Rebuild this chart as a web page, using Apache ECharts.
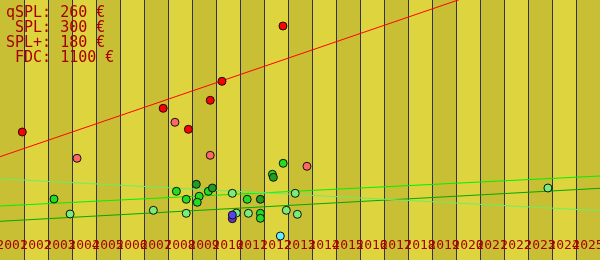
<!DOCTYPE html>
<html>
<head>
<meta charset="utf-8">
<script src="https://cdn.jsdelivr.net/npm/echarts@6/dist/echarts.min.js"></script>
<style>
html,body{margin:0;padding:0;background:#ddd43e;}
#chart{width:600px;height:260px;}
</style>
</head>
<body>
<div id="chart"></div>
<script>
// ---- data ----
const years = ['2001','2002','2003','2004','2005','2006','2007','2008','2009','2010','2011','2012','2013','2014','2015','2016','2017','2018','2019','2020','2021','2022','2023','2024','2025'];
const priceNames = ['qSPL', 'SPL', 'SPL+', 'FDC'];
const priceValues = [260, 300, 180, 1100];

// points: [decimal year, value]
const redPoints = [[2001.93,128],[2007.80,151.7],[2008.85,130.7],[2009.76,159.7],[2010.25,178.7],[2012.79,234]];
const salmonPoints = [[2004.21,101.7],[2008.29,137.7],[2009.76,104.7],[2013.79,93.7]];
const brightGreenPoints = [[2003.25,61],[2008.35,68.7],[2008.76,60.7],[2009.30,63.7],[2009.22,57.7],[2009.68,68.7],[2011.30,60.7],[2011.85,46.7],[2011.85,41.7],[2012.35,85.7],[2012.80,96.7]];
const darkGreenPoints = [[2009.18,75.7],[2009.85,72],[2011.85,60.7],[2012.39,82.7]];
const lightGreenPoints = [[2003.92,46],[2007.39,49.7],[2008.76,46.7],[2010.68,66.7],[2010.85,47],[2011.35,46.7],[2012.93,49.7],[2013.30,66.7],[2013.39,45.7],[2023.83,72]];
const violetPoints = [[2010.68,41.3]];
const bluePoints = [[2010.68,45]];
const cyanPoints = [[2012.68,24]];

// trend lines: [start, end]
const redTrend = [[2001,103.3],[2026,308.5]];
const limeTrend = [[2001,54],[2026,84]];
const greenTrend = [[2001,38.7],[2026,71.7]];
const paleTrend = [[2001,81.2],[2026,49.3]];

// ---- chart ----
const chart = echarts.init(document.getElementById('chart'), null, {renderer:'canvas'});
const legendText = priceNames.map((n,i)=> n.padStart(4,' ') + ': ' + priceValues[i] + ' €').join('\n');
const txtColor = '#a80000';

function trend(data, color){
  return {type:'line', data, symbol:'none', silent:true, z:2, xAxisIndex:0,
    lineStyle:{color, width:1}, clip:true, animation:false};
}
function pts(data, color){
  return {type:'scatter', data, symbol:'circle', symbolSize:8, z:5, xAxisIndex:0,
    itemStyle:{color, borderColor:'#111', borderWidth:1, opacity:1}, animation:false};
}

chart.setOption({
  animation:false,
  backgroundColor:'#ddd43e',
  title:{
    text: legendText, left:1, top:1,
    textStyle:{fontFamily:'DejaVu Sans Mono', fontSize:15, fontWeight:'normal', color:txtColor, lineHeight:15}
  },
  grid:{left:0, right:0, top:0, bottom:0, containLabel:false, outerBoundsMode:'none'},
  xAxis:[
    {type:'value', min:2001, max:2026, interval:1, position:'top',
     axisLine:{show:true, lineStyle:{color:'#222233', width:1}},
     axisTick:{show:false}, axisLabel:{show:false},
     splitLine:{show:true, showMinLine:false, lineStyle:{color:'#33334a', width:1}},
     splitArea:{show:true, areaStyle:{color:['#c9bf34','#ddd43e']}}
    },
    {type:'category', data:years, position:'bottom', boundaryGap:true,
     axisLine:{show:false}, axisTick:{show:false}, splitLine:{show:false},
     axisLabel:{show:true, inside:true, interval:0, margin:8, hideOverlap:false,
       fontFamily:'DejaVu Sans Mono', fontSize:13, color:txtColor}
    }
  ],
  yAxis:{type:'value', min:0, max:260, show:false, splitLine:{show:false}},
  series:[
    trend(redTrend,'#ff0000'),
    trend(limeTrend,'#00f000'),
    trend(greenTrend,'#00a800'),
    trend(paleTrend,'#66f066'),
    pts(salmonPoints,'#ff6666'),
    pts(redPoints,'#ff0000'),
    pts(lightGreenPoints,'#77ee77'),
    pts(brightGreenPoints,'#22dd22'),
    pts(darkGreenPoints,'#1f9f1f'),
    pts(violetPoints,'#6a2fc8'),
    pts(bluePoints,'#5544ee'),
    pts(cyanPoints,'#66eeff')
  ]
});
</script>
</body>
</html>
